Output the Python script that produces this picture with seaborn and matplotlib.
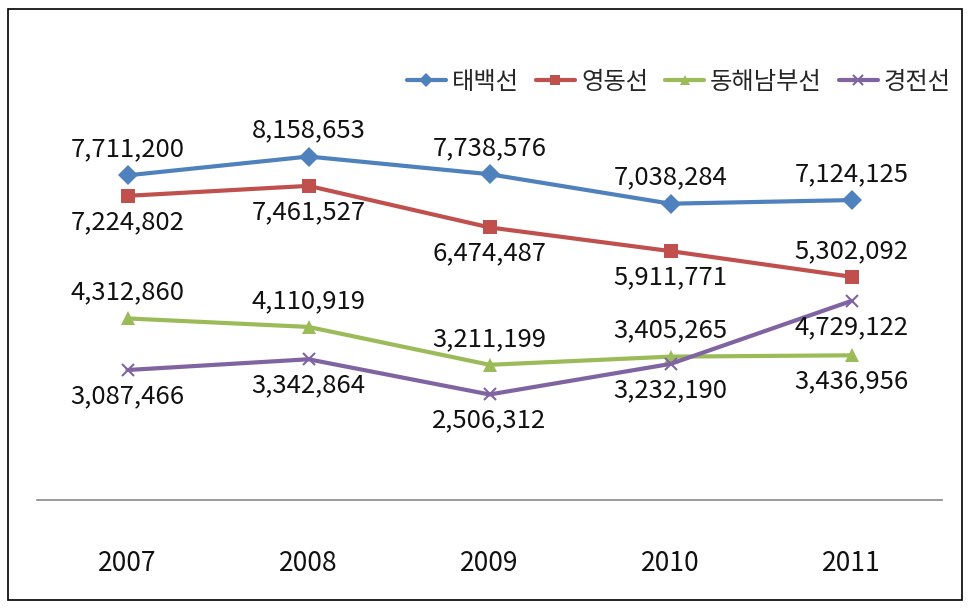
import matplotlib
matplotlib.use('Agg')
import matplotlib.pyplot as plt
import seaborn as sns
import pandas as pd
from matplotlib.patches import Rectangle

# data
years = ['2007', '2008', '2009', '2010', '2011']
lines = ['태백선', '영동선', '동해남부선', '경전선']
taebaek = [7711200, 8158653, 7738576, 7038284, 7124125]
yeongdong = [7224802, 7461527, 6474487, 5911771, 5302092]
donghae = [4312860, 4110919, 3211199, 3405265, 3436956]
gyeongjeon = [3087466, 3342864, 2506312, 3232190, 4729122]

# label above (+1) or below (-1) each point
label_side = {
    '태백선': [1, 1, 1, 1, 1],
    '영동선': [-1, -1, -1, -1, 1],
    '동해남부선': [1, 1, 1, 1, -1],
    '경전선': [-1, -1, -1, -1, -1],
}

colors = ['#4F81BD', '#C0504D', '#9BBB59', '#8064A2']
markers = ['D', 's', '^', 'x']

df = pd.DataFrame({
    'year': years * 4,
    'line': [n for n in lines for _ in years],
    'value': taebaek + yeongdong + donghae + gyeongjeon,
})
df['pos'] = df['year'].map({y: i for i, y in enumerate(years)})

sns.set_style('white')
plt.rcParams['font.family'] = ['Noto Sans CJK KR', 'DejaVu Sans']

fig = plt.figure(figsize=(9.68, 6.09), dpi=100)
ax = fig.add_axes([37 / 968, 109 / 609, 905 / 968, 421 / 609])

for name, c, m in zip(lines, colors, markers):
    sub = df[df['line'] == name]
    sns.lineplot(data=sub, x='pos', y='value', color=c, marker=m, lw=3,
                 markersize=10 if m != 'x' else 9, markeredgewidth=1.5 if m == 'x' else 0,
                 markeredgecolor=c, label=name, ax=ax)
    for (_, r), side in zip(sub.iterrows(), label_side[name]):
        ax.annotate(f"{r['value']:,}", (r['pos'], r['value']), xytext=(0, 26 * side),
                    textcoords='offset pixels',
                    ha='center', va='center', fontsize=18.5, color='#111111')

ax.set_xlim(-0.5, 4.5)
ax.set_ylim(0, 10000000)
ax.set_yticks([])
ax.set_xticks(range(len(years)))
ax.set_xticklabels(years, fontsize=19, color='#111111')
ax.tick_params(axis='x', length=0, pad=36)
ax.set_xlabel('')
ax.set_ylabel('')
for s in ['top', 'right', 'left']:
    ax.spines[s].set_visible(False)
ax.spines['bottom'].set_color('#888888')
ax.spines['bottom'].set_linewidth(1.2)

leg = ax.legend(loc='center right', bbox_to_anchor=(1.01, 0.993), ncol=4, frameon=False,
                fontsize=17.5, handlelength=1.6, handletextpad=0.25, columnspacing=0.7,
                markerscale=0.75, borderpad=0, borderaxespad=0)

fig.patches.append(Rectangle((8 / 968, 9 / 609), 954 / 968, 591 / 609, transform=fig.transFigure,
                             fill=False, edgecolor='black', lw=1.2))

fig.savefig('out.png', dpi=100)
